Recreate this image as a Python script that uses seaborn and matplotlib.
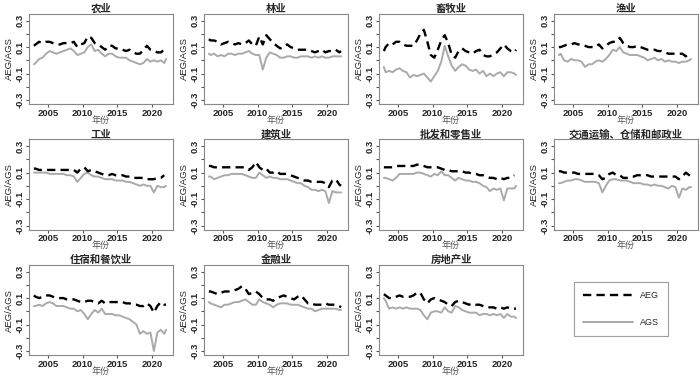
import numpy as np
import pandas as pd
import seaborn as sns
import matplotlib.pyplot as plt
from matplotlib.lines import Line2D

nan = np.nan

# half-year points, 2003 to 2022
years = [2003.0] + list(np.arange(2003.25, 2021.8, 0.5)) + [2022.0]

aeg_agri = [0.11, 0.12, 0.14, 0.13, 0.14, 0.14, 0.13, 0.12, 0.12, 0.13,
            0.13, 0.13, 0.14, 0.10, 0.12, 0.13, 0.18, 0.17, 0.13, 0.12,
            0.10, 0.08, 0.11, 0.11, 0.09, 0.09, 0.08, 0.07, 0.08, 0.06,
            0.05, 0.05, 0.08, 0.11, 0.08, 0.07, 0.06, 0.06, 0.08, 0.08]
ags_agri = [-0.03, -0.02, 0.01, 0.02, 0.05, 0.07, 0.06, 0.05, 0.06, 0.07,
            0.08, 0.09, 0.07, 0.04, 0.05, 0.06, 0.10, 0.12, 0.07, 0.08,
            0.05, 0.03, 0.05, 0.05, 0.03, 0.02, 0.02, 0.02, 0.00, -0.01,
            -0.02, -0.03, -0.02, 0.01, -0.01, 0.00, -0.01, 0.00, -0.02, 0.01]

aeg_forest = [0.16, 0.15, 0.15, 0.14, 0.12, 0.13, 0.14, 0.13, 0.12, 0.13,
              0.12, 0.13, 0.15, 0.12, 0.11, 0.18, 0.12, 0.19, 0.16, 0.13,
              0.11, 0.09, 0.10, 0.12, 0.10, 0.09, 0.08, 0.08, 0.08, 0.08,
              0.07, 0.06, 0.07, 0.08, 0.06, 0.07, 0.07, 0.08, 0.06, 0.07]
ags_forest = [0.05, 0.04, 0.05, 0.03, 0.04, 0.03, 0.05, 0.05, 0.04, 0.05,
              0.05, 0.06, 0.07, 0.05, 0.04, 0.04, -0.07, 0.02, 0.06, 0.05,
              0.04, 0.02, 0.02, 0.03, 0.03, 0.02, 0.02, 0.03, 0.03, 0.03,
              0.02, 0.03, 0.02, 0.03, 0.02, 0.02, 0.03, 0.03, 0.03, 0.03]

aeg_livestock = [0.07, 0.10, 0.13, 0.12, 0.14, 0.14, 0.12, 0.11, 0.11, 0.11,
                 0.15, 0.20, 0.23, 0.14, 0.04, 0.02, 0.08, 0.15, 0.19, 0.13,
                 0.04, 0.02, 0.07, 0.09, 0.07, 0.06, 0.05, 0.07, 0.08, 0.04,
                 0.03, 0.03, 0.05, 0.06, 0.09, 0.12, 0.09, 0.07, 0.06, 0.08]
ags_livestock = [-0.05, -0.09, -0.08, -0.09, -0.07, -0.06, -0.08, -0.09, -0.13, -0.11,
                 -0.12, -0.11, -0.10, -0.13, -0.16, -0.12, -0.08, -0.01, 0.11, 0.03,
                 -0.04, -0.08, -0.05, -0.03, -0.04, -0.07, -0.08, -0.07, -0.10, -0.08,
                 -0.12, -0.10, -0.12, -0.10, -0.09, -0.12, -0.09, -0.09, -0.10, -0.11]

aeg_fish = [0.10, 0.10, 0.11, 0.12, 0.12, 0.13, 0.12, 0.12, 0.11, 0.10,
            0.10, 0.10, 0.12, 0.09, 0.11, 0.13, 0.14, 0.14, 0.17, 0.13,
            0.11, 0.10, 0.10, 0.11, 0.10, 0.09, 0.08, 0.08, 0.08, 0.07,
            0.07, 0.06, 0.05, 0.05, 0.05, 0.05, 0.05, 0.03, 0.06, nan]
ags_fish = [0.04, 0.05, 0.00, -0.01, 0.01, 0.00, 0.00, -0.01, -0.05, -0.03,
            -0.03, -0.01, 0.00, -0.01, 0.01, 0.04, 0.08, 0.07, 0.10, 0.06,
            0.05, 0.04, 0.04, 0.04, 0.03, 0.02, 0.00, 0.01, 0.02, 0.00,
            0.01, -0.01, 0.00, -0.01, -0.01, -0.02, -0.01, -0.01, 0.00, 0.01]

aeg_industry = [0.13, 0.13, 0.12, 0.12, 0.12, 0.12, 0.12, 0.12, 0.12, 0.12,
                0.12, 0.12, 0.12, 0.10, 0.13, 0.14, 0.11, 0.12, 0.11, 0.10,
                0.09, 0.08, 0.08, 0.09, 0.08, 0.08, 0.08, 0.07, 0.07, 0.06,
                0.06, 0.06, 0.06, 0.05, 0.05, 0.05, 0.06, 0.06, 0.08, nan]
ags_industry = [0.10, 0.10, 0.10, 0.10, 0.10, 0.09, 0.09, 0.09, 0.09, 0.09,
                0.08, 0.08, 0.07, 0.03, 0.06, 0.09, 0.10, 0.08, 0.07, 0.07,
                0.06, 0.05, 0.05, 0.05, 0.04, 0.04, 0.04, 0.03, 0.03, 0.02,
                0.01, 0.00, 0.01, 0.00, 0.00, -0.05, 0.00, -0.01, -0.01, 0.00]

aeg_build = [0.15, 0.15, 0.14, 0.14, 0.14, 0.14, 0.14, 0.14, 0.14, 0.14,
             0.14, 0.14, 0.12, 0.14, 0.18, 0.14, 0.12, 0.13, 0.10, 0.10,
             0.11, 0.09, 0.09, 0.09, 0.08, 0.07, 0.06, 0.05, 0.04, 0.04,
             0.03, 0.03, 0.03, 0.03, 0.02, -0.01, 0.04, 0.05, 0.01, 0.00]
ags_build = [0.07, 0.07, 0.05, 0.06, 0.07, 0.08, 0.08, 0.09, 0.09, 0.09,
             0.09, 0.08, 0.07, 0.06, 0.06, 0.10, 0.08, 0.06, 0.07, 0.06,
             0.06, 0.05, 0.05, 0.05, 0.04, 0.03, 0.02, 0.02, 0.00, -0.01,
             -0.03, -0.03, -0.04, -0.03, -0.04, -0.13, -0.04, -0.05, -0.05, -0.05]

aeg_trade = [0.14, 0.14, 0.14, 0.14, 0.15, 0.15, 0.15, 0.15, 0.15, 0.15,
             0.16, 0.16, 0.15, 0.14, 0.14, 0.14, 0.14, 0.13, 0.12, 0.12,
             0.11, 0.11, 0.11, 0.11, 0.10, 0.10, 0.09, 0.09, 0.08, 0.08,
             0.07, 0.06, 0.06, 0.05, 0.06, 0.05, 0.06, 0.06, 0.08, nan]
ags_trade = [0.06, 0.06, 0.05, 0.04, 0.06, 0.09, 0.09, 0.09, 0.09, 0.09,
             0.10, 0.10, 0.09, 0.08, 0.07, 0.09, 0.08, 0.11, 0.08, 0.08,
             0.06, 0.04, 0.06, 0.05, 0.04, 0.04, 0.03, 0.03, 0.02, 0.00,
             -0.01, -0.04, -0.02, -0.03, -0.02, -0.11, -0.02, -0.02, -0.02, 0.00]

aeg_transport = [0.11, 0.11, 0.10, 0.10, 0.10, 0.10, 0.09, 0.09, 0.09, 0.09,
                 0.09, 0.09, 0.08, 0.05, 0.06, 0.09, 0.10, 0.08, 0.08, 0.06,
                 0.06, 0.07, 0.07, 0.08, 0.08, 0.08, 0.08, 0.07, 0.07, 0.07,
                 0.07, 0.07, 0.07, 0.07, 0.07, 0.05, 0.07, 0.10, 0.08, 0.07]
ags_transport = [0.02, 0.02, 0.03, 0.04, 0.04, 0.05, 0.05, 0.04, 0.03, 0.03,
                 0.03, 0.03, 0.02, -0.05, 0.00, 0.04, 0.05, 0.05, 0.04, 0.04,
                 0.04, 0.03, 0.02, 0.02, 0.02, 0.01, 0.01, 0.00, 0.01, 0.00,
                 0.00, -0.01, -0.02, 0.00, -0.01, -0.09, -0.02, -0.03, -0.01, -0.01]

aeg_hotel = [0.12, 0.11, 0.10, 0.11, 0.12, 0.12, 0.11, 0.10, 0.10, 0.10,
             0.09, 0.09, 0.09, 0.08, 0.07, 0.07, 0.08, 0.08, 0.07, 0.06,
             0.08, 0.06, 0.07, 0.07, 0.07, 0.07, 0.07, 0.06, 0.06, 0.05,
             0.05, 0.04, 0.04, 0.06, 0.04, -0.01, 0.04, 0.07, 0.05, 0.05]
ags_hotel = [0.04, 0.04, 0.05, 0.04, 0.06, 0.07, 0.06, 0.04, 0.04, 0.04,
             0.03, 0.02, 0.02, 0.00, 0.01, -0.02, -0.06, -0.02, 0.01, -0.01,
             0.02, -0.02, -0.02, -0.02, -0.03, -0.03, -0.04, -0.05, -0.06, -0.08,
             -0.10, -0.17, -0.15, -0.17, -0.16, -0.30, -0.16, -0.14, -0.17, -0.14]

aeg_finance = [0.15, 0.15, 0.14, 0.13, 0.14, 0.15, 0.15, 0.15, 0.16, 0.17,
               0.19, 0.17, 0.13, 0.14, 0.15, 0.13, 0.10, 0.09, 0.09, 0.08,
               0.10, 0.11, 0.12, 0.11, 0.10, 0.09, 0.11, 0.12, 0.09, 0.06,
               0.06, 0.05, 0.05, 0.05, 0.06, 0.05, 0.05, 0.05, 0.04, 0.03]
ags_finance = [0.07, 0.06, 0.05, 0.04, 0.03, 0.05, 0.05, 0.06, 0.07, 0.07,
               0.08, 0.09, 0.07, 0.05, 0.05, 0.09, 0.07, 0.06, 0.05, 0.03,
               0.05, 0.06, 0.06, 0.06, 0.05, 0.05, 0.05, 0.04, 0.03, 0.02,
               0.02, 0.00, 0.01, 0.02, 0.02, 0.02, 0.02, 0.02, 0.01, 0.01]

aeg_estate = [0.13, 0.12, 0.10, 0.10, 0.11, 0.12, 0.11, 0.11, 0.11, 0.12,
              0.14, 0.14, 0.09, 0.06, 0.09, 0.10, 0.09, 0.08, 0.07, 0.05,
              0.04, 0.07, 0.08, 0.07, 0.06, 0.05, 0.06, 0.05, 0.05, 0.04,
              0.03, 0.03, 0.03, 0.02, 0.03, 0.02, 0.03, 0.02, 0.02, 0.02]
ags_estate = [0.10, 0.08, 0.02, 0.03, 0.02, 0.03, 0.02, 0.03, 0.02, 0.02,
              0.02, 0.01, -0.03, -0.06, -0.01, 0.00, 0.00, -0.01, 0.03, 0.00,
              -0.01, 0.04, 0.03, 0.01, 0.00, -0.01, -0.01, -0.01, -0.03, -0.02,
              -0.02, -0.03, -0.02, -0.03, -0.02, -0.05, -0.02, -0.04, -0.04, -0.05]

panels = [
    ('农业', aeg_agri, ags_agri),
    ('林业', aeg_forest, ags_forest),
    ('畜牧业', aeg_livestock, ags_livestock),
    ('渔业', aeg_fish, ags_fish),
    ('工业', aeg_industry, ags_industry),
    ('建筑业', aeg_build, ags_build),
    ('批发和零售业', aeg_trade, ags_trade),
    ('交通运输、仓储和邮政业', aeg_transport, ags_transport),
    ('住宿和餐饮业', aeg_hotel, ags_hotel),
    ('金融业', aeg_finance, ags_finance),
    ('房地产业', aeg_estate, ags_estate),
]

sns.set_theme(style='ticks')
plt.rcParams['font.family'] = ['Liberation Sans', 'Noto Sans CJK SC']

GRAY = '#aaaaaa'
DASH = (0, (3.5, 2.2))

fig = plt.figure(figsize=(7, 3.76), dpi=100)
col_left = [29, 204, 379, 554]
row_top = [14, 139.5, 265]
W, H = 144, 90

yt = [-0.3, -0.2, -0.1, 0.0, 0.1, 0.2, 0.3]
yl = ['-0.3', '', '-0.1', '', '0.1', '', '0.3']
xt = [2005, 2010, 2015, 2020]

for i, (title, aeg, ags) in enumerate(panels):
    r, c = divmod(i, 4)
    ax = fig.add_axes([col_left[c] / 700, 1 - (row_top[r] + H) / 376, W / 700, H / 376])
    df = pd.DataFrame({'year': years, 'AEG': aeg, 'AGS': ags})
    sns.lineplot(data=df, x='year', y='AGS', ax=ax, color=GRAY, lw=1.4, estimator=None)
    sns.lineplot(data=df, x='year', y='AEG', ax=ax, color='black', lw=1.7,
                 linestyle=DASH, estimator=None)
    ax.set_xlim(2002.3, 2023.0)
    ax.set_ylim(-0.33, 0.35)
    ax.set_xticks(xt)
    ax.set_xticklabels([str(x) for x in xt], fontweight='bold')
    ax.set_yticks(yt)
    ax.set_yticklabels(yl, rotation=90, va='center', fontweight='bold')
    ax.tick_params(length=2.5, width=0.8, color='#555555', labelsize=6.8, pad=0.8)
    for sp in ax.spines.values():
        sp.set_color('#888888')
        sp.set_linewidth(0.8)
    ax.set_title(title, fontsize=7.5, fontweight='bold', family=['Noto Sans CJK SC'], pad=1.5)
    ax.set_xlabel('年份', fontsize=6.5, color='#555555', labelpad=-1.5, family=['Noto Sans CJK SC'])
    ax.set_ylabel('AEG/AGS', fontsize=6.8, labelpad=1)

handles = [Line2D([], [], color='black', lw=1.7, linestyle=DASH),
           Line2D([], [], color=GRAY, lw=1.4)]
leg = fig.legend(handles, ['AEG', 'AGS'], loc='center', bbox_to_anchor=(621 / 700, 1 - 309 / 376),
                 frameon=True, fancybox=False, edgecolor='#888888', fontsize=6.5,
                 handlelength=5.6, labelspacing=2.0, borderpad=1.0, handletextpad=0.8)
leg.get_frame().set_linewidth(0.8)

fig.savefig('out.png', dpi=100)
